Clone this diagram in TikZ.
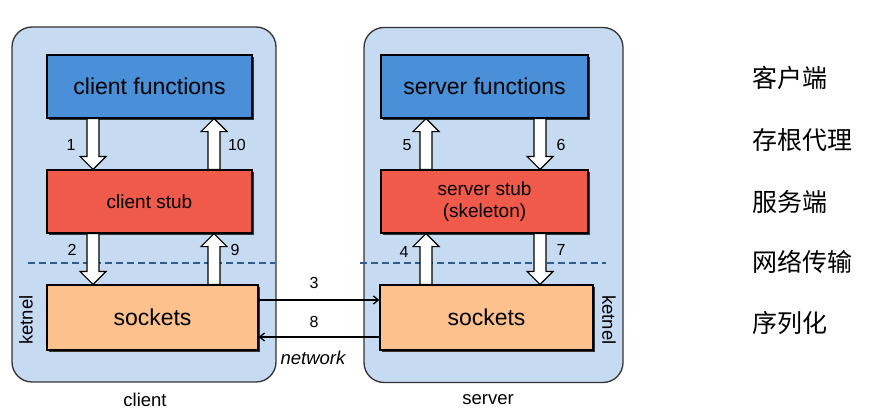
\documentclass[tikz,border=0pt]{standalone}
\usepackage{fontspec}
\setmainfont{Liberation Sans}
\newfontfamily\cjk{Noto Sans CJK SC}
\usetikzlibrary{calc,shadows,arrows.meta}

\definecolor{panelblue}{RGB}{198,218,242}
\definecolor{funcblue}{RGB}{74,144,217}
\definecolor{stubred}{RGB}{240,90,75}
\definecolor{sockpeach}{RGB}{253,193,142}
\definecolor{kernline}{RGB}{47,94,142}

\newcommand\blockarrow[3]{%
  \coordinate (ba-s) at (#3,0 |- #1);
  \coordinate (ba-e) at (#3,0 |- #2);
  \coordinate (ba-h) at ($(ba-e)!13pt!(ba-s)$);
  \draw[bigarrow] ($(ba-s)!6pt!90:(ba-e)$) -- ($(ba-h)!6pt!90:(ba-e)$)
    -- ($(ba-h)!13pt!90:(ba-e)$) -- (ba-e) -- ($(ba-h)!13pt!-90:(ba-e)$)
    -- ($(ba-h)!6pt!-90:(ba-e)$) -- ($(ba-s)!6pt!-90:(ba-e)$) -- cycle;
}

\begin{document}
\begin{tikzpicture}[x=1pt,y=-1pt,
    machine/.style={draw=black!80, line width=1.3pt, fill=panelblue,
      rounded corners=20pt, minimum height=355pt, inner sep=0pt},
    box/.style={draw=black, line width=1.2pt, inner sep=0pt, minimum height=63pt,
      drop shadow={shadow xshift=2pt, shadow yshift=-2pt, fill=black!80, opacity=1}},
    bigarrow/.style={draw=black, line width=1.2pt, fill=white, line join=miter},
    netarrow/.style={line width=1.3pt, -{Straight Barb[length=5pt,width=8pt]}},
    kernel/.style={draw=kernline, line width=1.5pt, dash pattern=on 7pt off 4pt},
    num/.style={font=\fontsize{16}{18}\selectfont},
    caption/.style={font=\fontsize{18.5}{21}\selectfont},
    cn/.style={anchor=west, inner sep=0pt, font=\cjk\fontsize{25}{28}\selectfont}]
  \useasboundingbox (0,0) rectangle (873,420);

  \node[machine, minimum width=264pt] (client) at (144,204.5) {};
  \node[machine, minimum width=259pt] (server) at (493.5,205) {};

  \draw[kernel] (28,263) -- (275,263);
  \draw[kernel] (360,263) -- (606,263);

  \node[box, fill=funcblue, minimum width=205pt, font=\fontsize{23}{26}\selectfont]
    (cfunc) at (149.5,86.5) {client functions};
  \node[box, fill=stubred, minimum width=205pt, font=\fontsize{19}{22}\selectfont]
    (cstub) at (149.5,201.5) {client stub};
  \node[box, fill=sockpeach, minimum width=211pt, minimum height=65pt, font=\fontsize{23}{26}\selectfont]
    (csock) at (152.5,317.5) {sockets};

  \node[box, fill=funcblue, minimum width=207pt, font=\fontsize{23}{26}\selectfont]
    (sfunc) at (484.5,86.5) {server functions};
  \node[box, fill=stubred, minimum width=207pt, font=\fontsize{19}{22}\selectfont, align=center]
    (sstub) at (484.5,201.5) {server stub\\(skeleton)};
  \node[box, fill=sockpeach, minimum width=213pt, minimum height=65pt, font=\fontsize{23}{26}\selectfont]
    (ssock) at (486.5,317.5) {sockets};

  \blockarrow{cfunc.south}{cstub.north}{93}
  \blockarrow{cstub.north}{cfunc.south}{214}
  \blockarrow{cstub.south}{csock.north}{93}
  \blockarrow{csock.north}{cstub.south}{214}

  \blockarrow{sstub.north}{sfunc.south}{426}
  \blockarrow{sfunc.south}{sstub.north}{540}
  \blockarrow{ssock.north}{sstub.south}{426}
  \blockarrow{sstub.south}{ssock.north}{540}

  \node[num] (n1) at (71,145) {1};
  \node[num] (n10) at (237,145) {10};
  \node[num] (n2) at (72,250) {2};
  \node[num] (n9) at (235,250) {9};
  \node[num] (n5) at (407,145) {5};
  \node[num] (n6) at (561,145) {6};
  \node[num] (n4) at (404,252) {4};
  \node[num] (n7) at (561,250) {7};

  \draw[netarrow] (csock.east |- 0,300) -- (ssock.west |- 0,300);
  \draw[netarrow] (ssock.west |- 0,337) -- (csock.east |- 0,337);
  \node[num] (n3) at (314,283) {3};
  \node[num] (n8) at (314,322) {8};
  \node[caption, font=\fontsize{18.5}{21}\selectfont\itshape] (net) at (313,358) {network};

  \node[caption, rotate=90] (ckern) at (26,320) {ketnel};
  \node[caption, rotate=-90] (skern) at (609,320) {ketnel};
  \node[caption] (clab) at (145,400) {client};
  \node[caption] (slab) at (488,400) {server};

  \node[cn] (t1) at (752,78) {客户端};
  \node[cn] (t2) at (752,140) {存根代理};
  \node[cn] (t3) at (752,202) {服务端};
  \node[cn] (t4) at (752,262) {网络传输};
  \node[cn] (t5) at (752,323) {序列化};
\end{tikzpicture}
\end{document}
